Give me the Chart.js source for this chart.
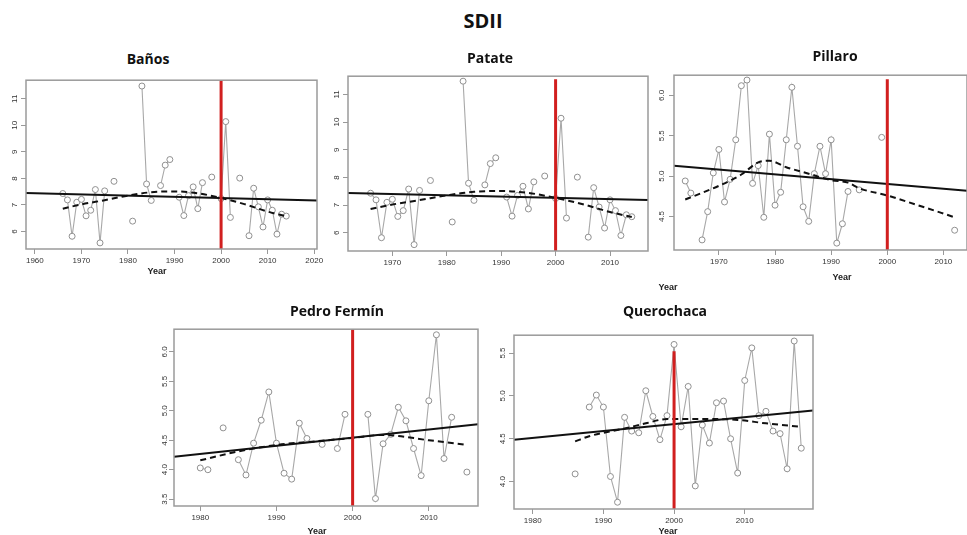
<!DOCTYPE html>
<html>
<head>
<meta charset="utf-8">
<script src="https://cdn.jsdelivr.net/npm/chart.js@4.4.1/dist/chart.umd.min.js"></script>
<style>
  body { margin: 0; width: 967px; height: 535px; background: #fff; position: relative; overflow: hidden; }
  canvas { position: absolute; }
  .ttl { position: absolute; transform: translate(-50%, -50%); font: bold 14px "Open Sans", sans-serif; color: #111; white-space: nowrap; }
  .main { font-size: 20px; }
  .year { position: absolute; transform: translate(-50%, -50%); font: bold 9px "Liberation Sans", Arial, sans-serif; color: #222; }
</style>
</head>
<body>
<div class="ttl main" style="left:483px;top:20px">SDII</div>
<script>
// SDII por estación (null = año sin dato)
const banosStart = 1966;
const banosSDII = [7.43, 7.19, 5.82, 7.10, 7.21, 6.59, 6.80, 7.58, 5.57, 7.53,
  null, 7.89, null, null, null, 6.39, null, 11.48, 7.79, 7.17,
  null, 7.73, 8.50, 8.71, null, 7.29, 6.60, 7.35, 7.68, 6.86,
  7.84, null, 8.05, null, 7.24, 10.14, 6.53, null, 8.01, null,
  5.84, 7.63, 6.93, 6.17, 7.19, 6.80, 5.90, 6.65, 6.58];
const banosLoessYears = [1966, 1970, 1975, 1980, 1985, 1990, 1995, 2000, 2005, 2010, 2014];
const banosLoess = [6.86, 7.02, 7.18, 7.35, 7.48, 7.51, 7.44, 7.26, 7.03, 6.75, 6.57];
const banosFitYears = [1958.1, 2020.6];
const banosFit = [7.45, 7.17];

// Patate: misma serie que Baños
const patateStart = banosStart;
const patateSDII = banosSDII;

const pillaroStart = 1964;
const pillaroSDII = [4.94, 4.79, null, 4.21, 4.56, 5.04, 5.33, 4.68, 4.96, 5.45,
  6.12, 6.19, 4.91, 5.13, 4.49, 5.52, 4.64, 4.80, 5.45, 6.10,
  5.37, 4.62, 4.44, 5.03, 5.37, 5.03, 5.45, 4.17, 4.41, 4.81,
  null, 4.83, null, null, null, 5.48, null, null, null, null,
  null, null, null, null, null, null, null, null, 4.33];
const pillaroLoessYears = [1964, 1970, 1974, 1977, 1979, 1982, 1986, 1990, 1993, 1995, 2000, 2005, 2012];
const pillaroLoess = [4.71, 4.88, 5.02, 5.17, 5.19, 5.11, 5.03, 4.95, 4.92, 4.85, 4.76, 4.65, 4.49];
const pillaroFitYears = [1962, 2014.2];
const pillaroFit = [5.13, 4.82];

const pedroStart = 1980;
const pedroSDII = [4.03, 4.00, null, 4.71, null, 4.17, 3.91, 4.45, 4.84, 5.32,
  4.45, 3.94, 3.84, 4.79, 4.53, null, 4.43, null, 4.36, 4.94,
  null, null, 4.94, 3.51, 4.44, 4.60, 5.06, 4.83, 4.36, 3.90,
  5.17, 6.29, 4.19, 4.89, null, 3.96];
const pedroLoessYears = [1980, 1985, 1990, 1995, 2000, 2004, 2010, 2015];
const pedroLoess = [4.16, 4.31, 4.42, 4.48, 4.54, 4.59, 4.50, 4.42];
const pedroFitYears = [1976.55, 2016.46];
const pedroFit = [4.22, 4.77];

const queroStart = 1986;
const queroSDII = [4.09, null, 4.87, 5.01, 4.87, 4.06, 3.76, 4.75, 4.59, 4.57,
  5.06, 4.76, 4.49, 4.77, 5.60, 4.64, 5.11, 3.95, 4.66, 4.45,
  4.92, 4.94, 4.50, 4.10, 5.18, 5.56, 4.77, 4.82, 4.59, 4.56,
  4.15, 5.64, 4.39];
const queroLoessYears = [1986, 1988, 1993, 1996, 1999, 2005, 2009, 2013, 2018];
const queroLoess = [4.47, 4.53, 4.62, 4.68, 4.73, 4.73, 4.72, 4.68, 4.64];
const queroFitYears = [1977.35, 2019.66];
const queroFit = [4.49, 4.83];

const banosXTicks = [1960, 1970, 1980, 1990, 2000, 2010, 2020];
const patateXTicks = [1970, 1980, 1990, 2000, 2010];
const pillaroXTicks = [1970, 1980, 1990, 2000, 2010];
const pedroXTicks = [1980, 1990, 2000, 2010];
const queroXTicks = [1980, 1990, 2000, 2010];
const banosYTicks = [6, 7, 8, 9, 10, 11];
const pillaroYTicks = [4.5, 5.0, 5.5, 6.0];
const pedroYTicks = [3.5, 4.0, 4.5, 5.0, 5.5, 6.0];
const queroYTicks = [4.0, 4.5, 5.0, 5.5];
const breakYear = 2000;

const panels = [
  { title: 'Baños', start: banosStart, vals: banosSDII, lx: banosLoessYears, ly: banosLoess, fx: banosFitYears, fy: banosFit,
    red: [11.7, 5.34], xr: [1958.1, 2020.6], yr: [5.34, 11.7], xt: banosXTicks, yt: banosYTicks, dec: 0,
    box: [26, 76, 317, 249], labX: 15, titleXY: [148, 58], yearXY: [157, 271] },
  { title: 'Patate', start: patateStart, vals: patateSDII, lx: banosLoessYears, ly: banosLoess, fx: banosFitYears, fy: banosFit,
    red: [11.55, 5.3], xr: [1961.85, 2016.98], yr: [5.34, 11.66], xt: patateXTicks, yt: banosYTicks, dec: 0,
    box: [348, 72, 648, 251], labX: 337, titleXY: [490, 57], yearXY: [668, 287] },
  { title: 'Pillaro', start: pillaroStart, vals: pillaroSDII, lx: pillaroLoessYears, ly: pillaroLoess, fx: pillaroFitYears, fy: pillaroFit,
    red: [6.2, 4.05], xr: [1962, 2014.2], yr: [4.085, 6.25], xt: pillaroXTicks, yt: pillaroYTicks, dec: 1,
    box: [674, 71, 967, 250], labX: 662, titleXY: [835, 55], yearXY: [842, 277] },
  { title: 'Pedro Fermín', start: pedroStart, vals: pedroSDII, lx: pedroLoessYears, ly: pedroLoess, fx: pedroFitYears, fy: pedroFit,
    red: [6.4, 3.35], xr: [1976.55, 2016.46], yr: [3.384, 6.385], xt: pedroXTicks, yt: pedroYTicks, dec: 1,
    box: [174, 325, 478, 506], labX: 165, titleXY: [337, 310], yearXY: [317, 531] },
  { title: 'Querochaca', start: queroStart, vals: queroSDII, lx: queroLoessYears, ly: queroLoess, fx: queroFitYears, fy: queroFit,
    red: [5.52, 3.65], xr: [1977.35, 2019.66], yr: [3.681, 5.708], xt: queroXTicks, yt: queroYTicks, dec: 1,
    box: [514, 331, 813, 509], labX: 503, titleXY: [665, 310], yearXY: [668, 531] }
];

// marco y etiquetas del eje y giradas, al estilo R
const rStyle = {
  id: 'rStyle',
  afterDraw(chart, args, opts) {
    const ctx = chart.ctx, a = chart.chartArea, ys = chart.scales.y;
    ctx.save();
    ctx.strokeStyle = '#9a9a9a';
    ctx.lineWidth = 1.5;
    ctx.strokeRect(a.left, a.top, a.right - a.left, a.bottom - a.top);
    ctx.fillStyle = '#333';
    ctx.font = '8px "Liberation Sans", Arial, sans-serif';
    ctx.textAlign = 'center';
    ctx.textBaseline = 'middle';
    ys.ticks.forEach(t => {
      ctx.save();
      ctx.translate(opts.labX, ys.getPixelForValue(t.value));
      ctx.rotate(-Math.PI / 2);
      ctx.fillText(t.value.toFixed(opts.dec), 0, 0);
      ctx.restore();
    });
    ctx.restore();
  }
};

const padL = 32, padT = 6, padR = 16, padB = 22;

panels.forEach((p, i) => {
  const [L, T, R, B] = p.box;
  const cv = document.createElement('canvas');
  cv.width = R - L + padL + padR;
  cv.height = B - T + padT + padB;
  cv.style.left = (L - padL) + 'px';
  cv.style.top = (T - padT) + 'px';
  document.body.appendChild(cv);

  const t = document.createElement('div');
  t.className = 'ttl';
  t.textContent = p.title;
  t.style.left = p.titleXY[0] + 'px';
  t.style.top = p.titleXY[1] + 'px';
  document.body.appendChild(t);

  const y = document.createElement('div');
  y.className = 'year';
  y.textContent = 'Year';
  y.style.left = p.yearXY[0] + 'px';
  y.style.top = p.yearXY[1] + 'px';
  document.body.appendChild(y);

  const series = p.vals.map((v, k) => ({ x: p.start + k, y: v }));
  const loess = p.lx.map((x, k) => ({ x: x, y: p.ly[k] }));
  const fit = p.fx.map((x, k) => ({ x: x, y: p.fy[k] }));

  new Chart(cv.getContext('2d'), {
    type: 'line',
    data: {
      datasets: [
        { data: [{ x: breakYear, y: p.red[0] }, { x: breakYear, y: p.red[1] }], borderColor: '#d11f1f', borderWidth: 3, pointRadius: 0 },
        { data: fit, borderColor: '#111', borderWidth: 2, pointRadius: 0 },
        { data: loess, borderColor: '#111', borderWidth: 2, borderDash: [6, 4], pointRadius: 0, cubicInterpolationMode: 'monotone' },
        { data: series, borderColor: '#a8a8a8', borderWidth: 1.1, spanGaps: false,
          pointRadius: 3, pointBorderWidth: 1, pointBorderColor: '#909090', pointBackgroundColor: '#fff' }
      ]
    },
    options: {
      responsive: false,
      animation: false,
      layout: { padding: { left: padL - 12, top: padT, right: padR, bottom: padB - 20 } },
      plugins: { legend: { display: false }, tooltip: { enabled: false }, rStyle: { labX: p.labX - (L - padL), dec: p.dec } },
      scales: {
        x: {
          type: 'linear', min: p.xr[0], max: p.xr[1],
          afterBuildTicks: s => { s.ticks = p.xt.map(v => ({ value: v })); },
          afterFit: s => { s.height = 20; },
          ticks: { callback: v => String(v), color: '#333', font: { family: '"Liberation Sans", Arial', size: 8 }, padding: 2, maxRotation: 0, autoSkip: false },
          grid: { drawOnChartArea: false, drawTicks: true, tickLength: 5, color: '#999' },
          border: { display: false }
        },
        y: {
          type: 'linear', min: p.yr[0], max: p.yr[1],
          afterBuildTicks: s => { s.ticks = p.yt.map(v => ({ value: v })); },
          afterFit: s => { s.width = 12; },
          ticks: { callback: () => '' },
          grid: { drawOnChartArea: false, drawTicks: true, tickLength: 5, color: '#999' },
          border: { display: false }
        }
      }
    },
    plugins: [rStyle]
  });
});
</script>
</body>
</html>
